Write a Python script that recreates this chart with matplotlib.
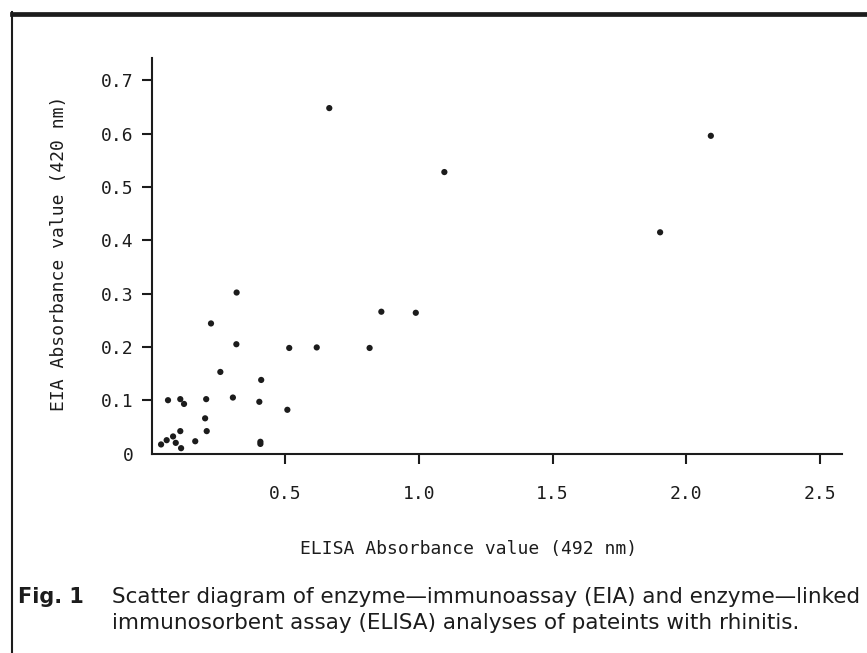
import matplotlib
matplotlib.use('Agg')
import matplotlib.pyplot as plt
from matplotlib.lines import Line2D

# ELISA (492 nm) vs EIA (420 nm) absorbance
elisa = [0.034, 0.055, 0.079, 0.089, 0.109, 0.106, 0.162, 0.060, 0.106, 0.120,
         0.203, 0.199, 0.205, 0.256, 0.303, 0.402, 0.409, 0.406, 0.406, 0.507,
         0.317, 0.221, 0.316, 0.514, 0.617, 0.815, 0.859, 0.988, 0.664, 1.095,
         1.903, 2.093]
eia = [0.017, 0.025, 0.032, 0.020, 0.010, 0.042, 0.023, 0.100, 0.102, 0.093,
       0.102, 0.066, 0.042, 0.153, 0.105, 0.097, 0.138, 0.022, 0.018, 0.082,
       0.302, 0.244, 0.205, 0.198, 0.199, 0.198, 0.266, 0.264, 0.648, 0.528,
       0.415, 0.596]

x_ticks = [0.5, 1.0, 1.5, 2.0, 2.5]
x_ticklabels = ['0.5', '1.0', '1.5', '2.0', '2.5']
y_ticks = [0, 0.1, 0.2, 0.3, 0.4, 0.5, 0.6, 0.7]
y_ticklabels = ['0', '0.1', '0.2', '0.3', '0.4', '0.5', '0.6', '0.7']

mono = 'DejaVu Sans Mono'
ink = '#1c1c1c'

fig = plt.figure(figsize=(8.67, 6.53), dpi=100)
ax = fig.add_axes([0.1753, 0.3055, 0.7958, 0.6057])

ax.scatter(elisa, eia, s=20, color=ink, edgecolors='none', zorder=3)

ax.set_xlim(0, 2.584)
ax.set_ylim(0, 0.742)
for side in ['top', 'right']:
    ax.spines[side].set_visible(False)
for side in ['left', 'bottom']:
    ax.spines[side].set_linewidth(1.5)
    ax.spines[side].set_color(ink)

ax.set_xticks(x_ticks)
ax.set_xticklabels(x_ticklabels, fontfamily=mono, fontsize=13, color=ink)
ax.set_yticks(y_ticks)
ax.set_yticklabels(y_ticklabels, fontfamily=mono, fontsize=13, color=ink)
ax.tick_params(axis='x', direction='out', length=7, width=1.5, pad=16, colors=ink)
ax.tick_params(axis='y', direction='out', length=7, width=1.5, pad=6, colors=ink)
ax.yaxis.get_major_ticks()[0].tick1line.set_visible(False)

# axis titles
ax.text(0.459, -0.241, 'ELISA Absorbance value (492 nm)', transform=ax.transAxes,
        ha='center', va='center', fontfamily=mono, fontsize=13, color=ink)
ax.text(-0.135, 0.505, 'EIA Absorbance value (420 nm)', transform=ax.transAxes,
        ha='center', va='center', rotation=90, fontfamily=mono, fontsize=13, color=ink)

# caption
cap = 'DejaVu Sans'
fig.text(0.021, 1 - 597 / 653, 'Fig. 1', ha='left', va='center',
         fontfamily=cap, fontsize=15, fontweight='bold', color=ink)
fig.text(0.129, 1 - 597 / 653,
         'Scatter diagram of enzyme\u2014immunoassay (EIA) and enzyme\u2014linked',
         ha='left', va='center', fontfamily=cap, fontsize=15.5, color=ink)
fig.text(0.129, 1 - 623 / 653,
         'immunosorbent assay (ELISA) analyses of pateints with rhinitis.',
         ha='left', va='center', fontfamily=cap, fontsize=15.5, color=ink)

# page frame: heavy rule on top, thin rule on the left
fig.add_artist(Line2D([12 / 867, 1], [1 - 13.5 / 653, 1 - 13.5 / 653],
                      transform=fig.transFigure, color=ink, linewidth=3.4))
fig.add_artist(Line2D([12 / 867, 12 / 867], [0, 1 - 12 / 653],
                      transform=fig.transFigure, color=ink, linewidth=1.5))

fig.savefig('out.png', dpi=100)
